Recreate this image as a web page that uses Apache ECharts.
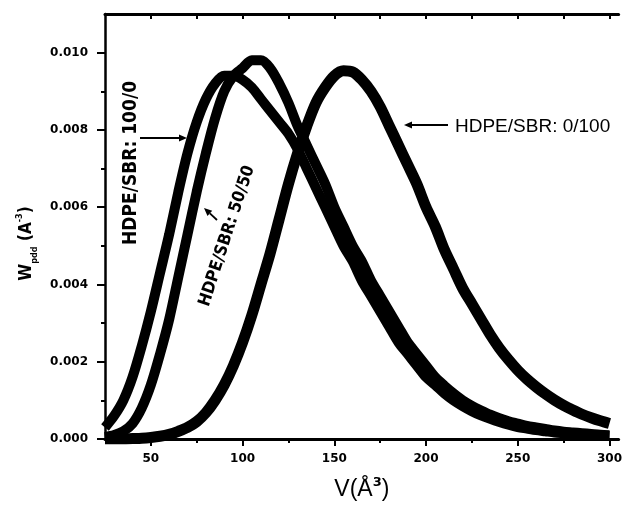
<!DOCTYPE html>
<html>
<head>
<meta charset="utf-8">
<script src="https://cdn.jsdelivr.net/npm/echarts@6/dist/echarts.min.js"></script>
<style>html,body{margin:0;padding:0;background:#fff}#c{width:625px;height:509px}</style>
</head>
<body>
<div id="c"></div>
<script>
// ---- data ----
const volumes = [25,30,35,40,45,50,55,60,65,70,75,80,85,90,95,100,105,110,115,120,125,130,135,140,145,150,155,160,165,170,175,180,185,190,195,200,205,210,215,220,225,230,235,240,245,250,255,260,265,270,275,280,285,290,295,300];
const w100_0 = [0.0003,0.0006,0.0010,0.0016,0.0024,0.0033,0.0043,0.0053,0.0064,0.0074,0.0082,0.0088,0.0092,0.0094,0.0094,0.0093,0.0091,0.0088,0.0085,0.0082,0.0079,0.0075,0.0070,0.0065,0.0060,0.0055,0.0050,0.0046,0.0041,0.0037,0.0033,0.0029,0.0025,0.0022,0.0019,0.0016,0.0014,0.00118,0.001,0.00085,0.00072,0.00061,0.00052,0.00044,0.00037,0.00031,0.00027,0.00023,0.0002,0.00017,0.00015,0.00013,0.00011,0.0001,0.00009,0.00008];
const w50_50 = [0.00005,0.0001,0.0002,0.0004,0.0008,0.0014,0.0022,0.0031,0.0042,0.0053,0.0064,0.0074,0.0083,0.0090,0.0094,0.0096,0.0098,0.0098,0.0096,0.0092,0.0087,0.0081,0.0076,0.0071,0.0066,0.0060,0.0055,0.0050,0.0046,0.0041,0.0037,0.0033,0.0029,0.0025,0.0022,0.0019,0.0016,0.00138,0.00118,0.001,0.00086,0.00074,0.00063,0.00054,0.00046,0.0004,0.00034,0.0003,0.00026,0.00022,0.00019,0.00017,0.00015,0.00013,0.00011,0.0001];
const w0_100 = [0,0,0,0.00001,0.00002,0.00004,0.00007,0.00012,0.0002,0.0003,0.00045,0.00068,0.0010,0.0014,0.0019,0.0025,0.0032,0.0040,0.0048,0.0057,0.0066,0.0074,0.0081,0.0087,0.0091,0.0094,0.00953,0.0095,0.0093,0.0090,0.0086,0.0081,0.0076,0.0071,0.0066,0.0060,0.0055,0.0049,0.0044,0.0039,0.0035,0.0031,0.0027,0.00235,0.00205,0.00178,0.00155,0.00135,0.00117,0.00101,0.00087,0.00075,0.00064,0.00055,0.00047,0.0004];
const xMajorTicks = [50,100,150,200,250,300];
const xMinorTicks = [75,125,175,225,275];
const xTopTicks = [50,75,100,125,150,175,200,225,250,275,300];
const yMajorTicks = [0,0.002,0.004,0.006,0.008,0.010];
const yMinorTicks = [0.001,0.003,0.005,0.007,0.009];
const labels = ['HDPE/SBR: 100/0','HDPE/SBR: 50/50','HDPE/SBR: 0/100'];

const zip = (xs, ys) => xs.map((x, i) => [x, ys[i]]);
const chart = echarts.init(document.getElementById('c'), null, {renderer:'canvas'});
const black = '#000';
const lblFont = {color:black, fontFamily:'DejaVu Sans', fontWeight:'bold', fontSize:12};

function arrow(x1,y1,x2,y2){
  const a = Math.atan2(y2-y1, x2-x1), L = 8, W = 3.5;
  const bx = x2 - L*Math.cos(a), by = y2 - L*Math.sin(a);
  return [
    {type:'line', shape:{x1:x1,y1:y1,x2:bx,y2:by}, style:{stroke:black, lineWidth:1.8}, silent:true},
    {type:'polygon', shape:{points:[[x2,y2],[bx - W*Math.sin(a), by + W*Math.cos(a)],[bx + W*Math.sin(a), by - W*Math.cos(a)]]}, style:{fill:black}, silent:true}
  ];
}

const lineSeries = (name, ys, w) => ({
  name: name, type:'line', data: zip(volumes, ys), showSymbol:false, smooth:0.3,
  lineStyle:{color:black, width:w}, itemStyle:{color:black}, z:2
});

chart.setOption({
  backgroundColor:'#fff',
  animation:false,
  grid:{left:105, right:0, top:14, bottom:70},
  xAxis:[
    {type:'value', min:25, max:305, position:'bottom',
     name:'{a|V(Å}{p|3}{a|)}', nameLocation:'middle', nameGap:37,
     nameTextStyle:{rich:{a:{fontSize:23, fontFamily:'Liberation Sans', color:black, lineHeight:28}, p:{fontSize:13, fontWeight:'bold', fontFamily:'DejaVu Sans', color:black, verticalAlign:'top', lineHeight:28}}},
     axisLine:{lineStyle:{color:black, width:3}},
     axisTick:{customValues:xMajorTicks, length:7, lineStyle:{color:black, width:2}},
     axisLabel:Object.assign({customValues:xMajorTicks, margin:14}, lblFont),
     splitLine:{show:false}},
    {type:'value', min:25, max:305, position:'bottom',
     axisLine:{show:false},
     axisTick:{customValues:xMinorTicks, length:4, lineStyle:{color:black, width:2}},
     axisLabel:{show:false}, splitLine:{show:false}},
    {type:'value', min:25, max:305, position:'top',
     axisLine:{lineStyle:{color:black, width:3}},
     axisTick:{inside:true, customValues:xTopTicks, length:5, lineStyle:{color:black, width:2}},
     axisLabel:{show:false}, splitLine:{show:false}}
  ],
  yAxis:[
    {type:'value', min:0, max:0.011, position:'left',
     name:'{a|W}{s|pdd}{a| (A}{p|-3}{a|)}', nameLocation:'middle', nameGap:66,
     nameTextStyle:{padding:[0,34,0,0], rich:{a:{fontSize:17, fontWeight:'bold', fontFamily:'DejaVu Sans Condensed', color:black, lineHeight:24}, s:{fontSize:9, fontWeight:'bold', fontFamily:'DejaVu Sans Condensed', color:black, verticalAlign:'bottom', lineHeight:24}, p:{fontSize:9, fontWeight:'bold', fontFamily:'DejaVu Sans Condensed', color:black, verticalAlign:'top', lineHeight:24}}},
     axisLine:{lineStyle:{color:black, width:2.5}},
     axisTick:{customValues:yMajorTicks, length:8, lineStyle:{color:black, width:2}},
     axisLabel:Object.assign({customValues:yMajorTicks, margin:17, formatter:v => v.toFixed(3)}, lblFont),
     splitLine:{show:false}},
    {type:'value', min:0, max:0.011, position:'left',
     axisLine:{show:false},
     axisTick:{customValues:yMinorTicks, length:4, lineStyle:{color:black, width:2}},
     axisLabel:{show:false}, splitLine:{show:false}}
  ],
  series:[
    lineSeries(labels[2], w0_100, 11),
    lineSeries(labels[0], w100_0, 10),
    lineSeries(labels[1], w50_50, 10)
  ],
  graphic:[
    {type:'text', x:131, y:163, rotation:Math.PI/2, style:{text:labels[0], font:'bold 19px "DejaVu Sans Condensed"', fill:black, align:'center', verticalAlign:'middle'}, silent:true},
    {type:'text', x:227, y:236, rotation:1.255, style:{text:labels[1], font:'bold 17px "DejaVu Sans Condensed"', fill:black, align:'center', verticalAlign:'middle'}, silent:true},
    {type:'text', x:455, y:127, style:{text:labels[2], font:'19px "Liberation Sans"', fill:black, align:'left', verticalAlign:'middle'}, silent:true}
  ].concat(arrow(140,138,187,138), arrow(448,125,404,125), arrow(217,220,204,208))
});
</script>
</body>
</html>
